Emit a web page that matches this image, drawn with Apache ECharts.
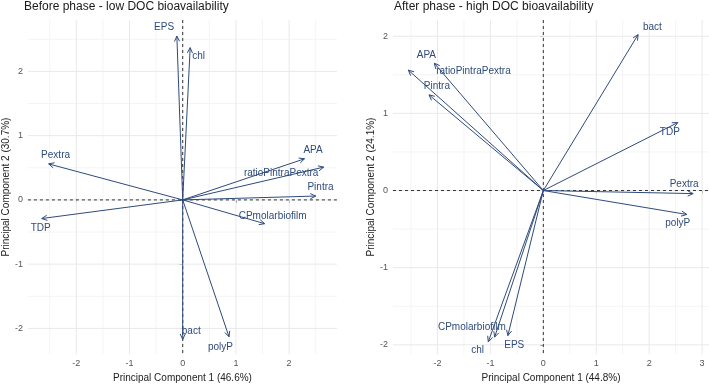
<!DOCTYPE html>
<html>
<head>
<meta charset="utf-8">
<script src="https://cdn.jsdelivr.net/npm/echarts@6/dist/echarts.min.js"></script>
<style>
  html, body { margin: 0; padding: 0; background: #fff; }
  #chart { width: 709px; height: 388px; }
</style>
</head>
<body>
<div id="chart"></div>
<script>
// before phase (low DOC bioavailability)
var beforeNames = ['EPS', 'chl', 'APA', 'ratioPintraPextra', 'Pintra', 'Pextra', 'TDP', 'CPmolarbiofilm', 'bact', 'polyP'];
var beforePC1 = [-0.11, 0.14, 2.29, 2.65, 2.50, -2.52, -2.65, 1.54, 0.00, 0.87];
var beforePC2 = [2.55, 2.37, 0.64, 0.51, 0.06, 0.56, -0.29, -0.37, -2.17, -2.13];
var beforeLabX = [-0.35, 0.30, 2.45, 1.85, 2.59, -2.39, -2.67, 1.69, 0.16, 0.71];
var beforeLabY = [2.69, 2.23, 0.78, 0.42, 0.19, 0.70, -0.44, -0.25, -2.05, -2.30];

// after phase (high DOC bioavailability)
var afterNames = ['bact', 'APA', 'ratioPintraPextra', 'Pintra', 'TDP', 'Pextra', 'polyP', 'CPmolarbiofilm', 'chl', 'EPS'];
var afterPC1 = [1.79, -2.06, -2.55, -2.16, 2.54, 2.83, 2.71, -0.92, -1.04, -0.67];
var afterPC2 = [2.02, 1.65, 1.56, 1.24, 0.88, -0.04, -0.31, -1.90, -1.96, -1.88];
var afterLabX = [2.06, -2.21, -1.32, -2.01, 2.39, 2.66, 2.54, -1.35, -1.24, -0.55];
var afterLabY = [2.12, 1.75, 1.55, 1.35, 0.76, 0.08, -0.42, -1.77, -2.07, -2.00];

// ticks / grid lines
var beforeXTicks = [-2, -1, 0, 1, 2];
var beforeYTicks = [-2, -1, 0, 1, 2];
var beforeXMinor = [-2.5, -1.5, -0.5, 0.5, 1.5, 2.5];
var beforeYMinor = [-1.5, -0.5, 0.5, 1.5, 2.5];
var afterXTicks = [-2, -1, 0, 1, 2, 3];
var afterYTicks = [-2, -1, 0, 1, 2];
var afterXMinor = [-2.5, -1.5, -0.5, 0.5, 1.5, 2.5];
var afterYMinor = [-1.5, -0.5, 0.5, 1.5];

var FONT = 'Liberation Sans';
var BLUE = '#2f4b7c';

var chart = echarts.init(document.getElementById('chart'));

// straight lines across the panel (grid lines and the dashed zero lines)
function lineSeries(idx, values, vertical, style) {
  return {
    type: 'custom',
    xAxisIndex: idx, yAxisIndex: idx,
    silent: true, z: 1,
    data: values.map(function (v) { return vertical ? [v, 0] : [0, v]; }),
    encode: { x: 0, y: 1 },
    renderItem: function (params, api) {
      var cs = params.coordSys;
      var p = api.coord([api.value(0), api.value(1)]);
      var shape = vertical
        ? { x1: p[0], y1: cs.y, x2: p[0], y2: cs.y + cs.height }
        : { x1: cs.x, y1: p[1], x2: cs.x + cs.width, y2: p[1] };
      return { type: 'line', shape: shape, style: style };
    }
  };
}

function arrowSeries(idx, pc1, pc2) {
  return {
    type: 'custom',
    xAxisIndex: idx, yAxisIndex: idx,
    silent: true, z: 5,
    data: pc1.map(function (v, i) { return [v, pc2[i]]; }),
    encode: { x: 0, y: 1 },
    renderItem: function (params, api) {
      var o = api.coord([0, 0]);
      var p = api.coord([api.value(0), api.value(1)]);
      var ang = Math.atan2(p[1] - o[1], p[0] - o[0]);
      var L = 6, a = Math.PI / 7;
      var h1 = [p[0] - L * Math.cos(ang - a), p[1] - L * Math.sin(ang - a)];
      var h2 = [p[0] - L * Math.cos(ang + a), p[1] - L * Math.sin(ang + a)];
      var st = { stroke: BLUE, lineWidth: 1, fill: null };
      return {
        type: 'group',
        children: [
          { type: 'line', shape: { x1: o[0], y1: o[1], x2: p[0], y2: p[1] }, style: st },
          { type: 'polyline', shape: { points: [h1, p, h2] }, style: st }
        ]
      };
    }
  };
}

// variable names as text at their label points
function labelSeries(idx, labX, labY, names) {
  return {
    type: 'custom',
    xAxisIndex: idx, yAxisIndex: idx,
    silent: true, z: 6,
    data: names.map(function (n, i) { return [labX[i], labY[i], n]; }),
    encode: { x: 0, y: 1 },
    renderItem: function (params, api) {
      var p = api.coord([api.value(0), api.value(1)]);
      return {
        type: 'text',
        x: p[0], y: p[1],
        style: {
          text: names[params.dataIndex],
          fill: BLUE, fontSize: 10, fontFamily: FONT,
          align: 'center', verticalAlign: 'middle'
        }
      };
    }
  };
}

function panelSeries(idx, xMajor, xMinor, yMajor, yMinor, pc1, pc2, labX, labY, names) {
  var major = { stroke: '#e9e9e9', lineWidth: 1 };
  var minor = { stroke: '#f4f4f4', lineWidth: 1 };
  var zero = { stroke: '#333', lineWidth: 1, lineDash: [3, 3] };
  return [
    lineSeries(idx, xMinor, true, minor),
    lineSeries(idx, yMinor, false, minor),
    lineSeries(idx, xMajor, true, major),
    lineSeries(idx, yMajor, false, major),
    lineSeries(idx, [0], true, zero),
    lineSeries(idx, [0], false, zero),
    arrowSeries(idx, pc1, pc2),
    labelSeries(idx, labX, labY, names)
  ];
}

function xAx(idx, min, max, ticks, name) {
  return {
    type: 'value', gridIndex: idx, min: min, max: max,
    name: name, nameLocation: 'middle', nameGap: 18,
    nameTextStyle: { fontSize: 10, color: '#222', fontFamily: FONT },
    axisLine: { show: false },
    axisTick: { show: true, length: 3, customValues: ticks, lineStyle: { color: '#777' } },
    axisLabel: { customValues: ticks, fontSize: 9, color: '#555', margin: 5, fontFamily: FONT },
    splitLine: { show: false }
  };
}

function yAx(idx, min, max, ticks, name) {
  return {
    type: 'value', gridIndex: idx, min: min, max: max,
    name: name, nameLocation: 'middle', nameGap: 13,
    nameTextStyle: { fontSize: 10, color: '#222', fontFamily: FONT },
    axisLine: { show: false },
    axisTick: { show: true, length: 3, customValues: ticks, lineStyle: { color: '#777' } },
    axisLabel: { customValues: ticks, fontSize: 9, color: '#555', margin: 5, fontFamily: FONT },
    splitLine: { show: false }
  };
}

var option = {
  backgroundColor: '#fff',
  animation: false,
  title: [
    { text: 'Before phase - low DOC bioavailability', left: 24, top: 1, padding: 0,
      textStyle: { fontSize: 12, fontWeight: 'normal', color: '#1a1a1a', fontFamily: FONT } },
    { text: 'After phase - high DOC bioavailability', left: 394, top: 1, padding: 0,
      textStyle: { fontSize: 12, fontWeight: 'normal', color: '#1a1a1a', fontFamily: FONT } }
  ],
  grid: [
    { left: 24, top: 20, width: 313, height: 338 },
    { left: 393, top: 20, width: 316, height: 337 }
  ],
  xAxis: [
    xAx(0, -2.91, 2.90, beforeXTicks, 'Principal Component 1 (46.6%)'),
    xAx(1, -2.84, 3.13, afterXTicks, 'Principal Component 1 (44.8%)')
  ],
  yAxis: [
    yAx(0, -2.40, 2.80, beforeYTicks, 'Principal Component 2 (30.7%)'),
    yAx(1, -2.12, 2.21, afterYTicks, 'Principal Component 2 (24.1%)')
  ],
  series: [].concat(
    panelSeries(0, beforeXTicks, beforeXMinor, beforeYTicks, beforeYMinor,
      beforePC1, beforePC2, beforeLabX, beforeLabY, beforeNames),
    panelSeries(1, afterXTicks, afterXMinor, afterYTicks, afterYMinor,
      afterPC1, afterPC2, afterLabX, afterLabY, afterNames)
  )
};

chart.setOption(option);
</script>
</body>
</html>
